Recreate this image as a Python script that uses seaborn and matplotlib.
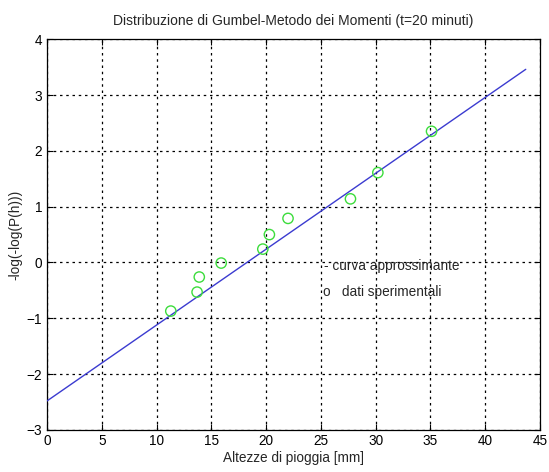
import matplotlib
matplotlib.use("Agg")
import matplotlib.pyplot as plt
import seaborn as sns
import pandas as pd

# Experimental rainfall heights (mm) and reduced Gumbel variate
rain_mm = [11.3, 13.7, 13.9, 15.9, 19.7, 20.3, 22.0, 27.7, 30.2, 35.1]
reduced_var = [-0.87, -0.53, -0.26, -0.01, 0.24, 0.50, 0.79, 1.14, 1.61, 2.35]

# Fitted Gumbel line (method of moments), endpoints
fit_x = [0.0, 43.7]
fit_y = [-2.48, 3.46]

x_ticks = [0, 5, 10, 15, 20, 25, 30, 35, 40, 45]
y_ticks = [-3, -2, -1, 0, 1, 2, 3, 4]

sns.set_style("white")
plt.rcParams["font.family"] = ["Liberation Sans", "DejaVu Sans"]

fig = plt.figure(figsize=(5.49, 4.72), dpi=100)
ax = fig.add_axes([0.0856, 0.089, 0.898, 0.828])

pts = pd.DataFrame({"h": rain_mm, "y": reduced_var})
fit = pd.DataFrame({"h": fit_x, "y": fit_y})

sns.lineplot(data=fit, x="h", y="y", ax=ax, color="#3b3bd0", linewidth=1.0, zorder=3)
sns.scatterplot(data=pts, x="h", y="y", ax=ax, marker="o", s=55,
                facecolor="none", edgecolor="#3cdc3c", linewidth=1.0, zorder=4)

ax.set_xlim(0, 45)
ax.set_ylim(-3, 4)
ax.set_xticks(x_ticks)
ax.set_yticks(y_ticks)
ax.grid(True, color="black", linestyle=(0, (2, 3.0)), linewidth=0.9)
ax.tick_params(direction="in", length=4, width=0.8, labelsize=9.8, colors="black",
               top=True, right=True, bottom=True, left=True)
ax.tick_params(axis="x", pad=3)
for s in ax.spines.values():
    s.set_visible(True)
    s.set_color("black")
    s.set_linewidth(0.9)

ax.set_xlabel("Altezze di pioggia [mm]", fontsize=9.8, labelpad=2)
ax.set_ylabel("-log(-log(P(h)))", fontsize=9.8, labelpad=3)
ax.set_title("Distribuzione di Gumbel-Metodo dei Momenti (t=20 minuti)", fontsize=10, pad=10)

# Legend entries written as plain text, no frame
ax.text(25.3, -0.07, "- curva approssimante", fontsize=9.8, va="center", ha="left")
ax.text(25.2, -0.52, "o   dati sperimentali", fontsize=9.8, va="center", ha="left")

fig.savefig("out.png", dpi=100)
